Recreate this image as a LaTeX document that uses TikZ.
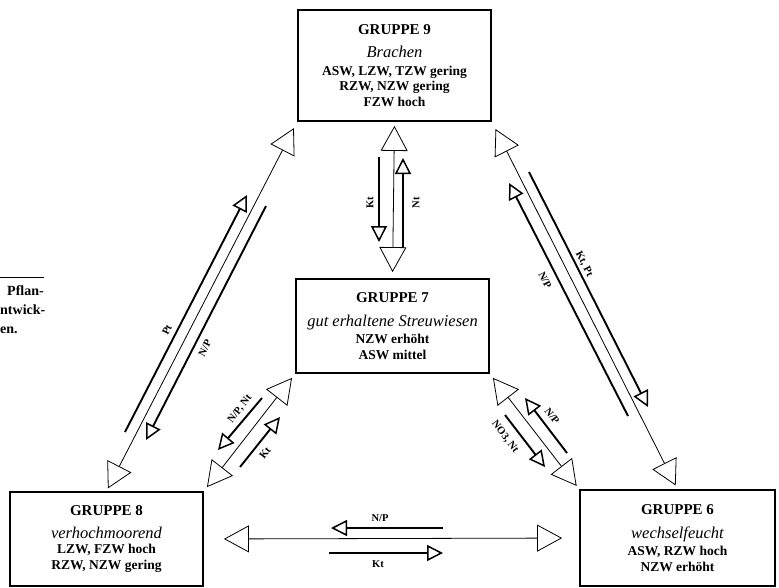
\documentclass[tikz,border=0pt]{standalone}
\usepackage{fontspec}
\setmainfont{Liberation Serif}
\usetikzlibrary{arrows.meta,positioning}

\tikzset{
  grp/.style={draw, line width=1.8pt, inner sep=0pt, align=center, font=\bfseries\fontsize{13.5}{15.5}\selectfont},
  haupt/.style={line width=0.8pt, {Triangle[open,length=25pt,width=27pt,line width=0.8pt]}-{Triangle[open,length=25pt,width=27pt,line width=0.8pt]}},
  fluss/.style={line width=1.9pt, -{Triangle[open,length=16pt,width=16pt,line width=1.5pt]}},
  lbl/.style={font=\bfseries\fontsize{10.5}{11}\selectfont, inner sep=0pt}
}
\newcommand{\kopf}[1]{{\bfseries\fontsize{15}{15}\selectfont #1}}
\newcommand{\art}[1]{{\mdseries\itshape\fontsize{16.5}{15}\selectfont #1}}

\begin{document}
\begin{tikzpicture}[x=1pt,y=-1pt]
\useasboundingbox (0,0) rectangle (779,587);

% die fuenf Gruppen
\node[grp, minimum width=193pt, minimum height=111pt] (g9) at (394.5,65.5)
  {\kopf{GRUPPE 9}\\[8pt] \art{Brachen}\\[2pt] ASW, LZW, TZW gering\\ RZW, NZW gering\\ FZW hoch};
\node[grp, minimum width=193pt, minimum height=94pt] (g7) at (392.5,326)
  {\kopf{GRUPPE 7}\\[8pt] \art{gut erhaltene Streuwiesen}\\[2pt] NZW erhöht\\ ASW mittel};
\node[grp, minimum width=193pt, minimum height=94pt] (g8) at (106.5,539)
  {\kopf{GRUPPE 8}\\[7pt] \art{verhochmoorend}\\ LZW, FZW hoch\\ RZW, NZW gering};
\node[grp, minimum width=195pt, minimum height=96pt] (g6) at (677.5,538)
  {\kopf{GRUPPE 6}\\[8pt] \art{wechselfeucht}\\[2pt] ASW, RZW hoch\\ NZW erhöht};

% Rest der Bildunterschrift links
\draw[line width=0.8pt] (0,277) -- (44,277);
\node[font=\bfseries\fontsize{14}{19}\selectfont, align=left, inner sep=0pt, anchor=north west] (rand) at (0,285)
  {\hspace*{7pt}Pflan-\\ntwick-\\en.};

% Uebergaenge
\draw[haupt, shorten <=4pt, shorten >=6pt] (g9.south) -- (g7.north);
\draw[haupt, shorten <=3pt, shorten >=7pt] (g8.north) -- (g9.south west);
\draw[haupt, shorten <=8pt, shorten >=4pt] (g9.south east) -- (g6.north);
\draw[haupt, shorten <=5pt, shorten >=5pt] (g8.north east) -- (g7.south west);
\draw[haupt, shorten <=5pt, shorten >=4pt] (g7.south east) -- (g6.north west);
\draw[haupt, shorten <=20pt, shorten >=17pt] (g8.east) -- (g6.west);

% Stoffe, senkrecht
\coordinate (a1) at (379,157); \coordinate (a2) at (379,242);
\coordinate (b1) at (403,248); \coordinate (b2) at (403,158);
\draw[fluss] (a1) -- (a2);
\draw[fluss] (b1) -- (b2);
\node[lbl, rotate=90] (la) at (370,203) {Kt};
\node[lbl, rotate=90] (lb) at (416,203) {Nt};

% links lang
\coordinate (c1) at (125,432); \coordinate (c2) at (247,195);
\coordinate (d1) at (266,206); \coordinate (d2) at (146,440);
\draw[fluss] (c1) -- (c2);
\draw[fluss] (d1) -- (d2);
\node[lbl, rotate=63] (lc) at (167,330) {Pt};
\node[lbl, rotate=63] (ld) at (205,348) {N/P};

% rechts lang
\coordinate (e1) at (529,172); \coordinate (e2) at (648,407);
\coordinate (f1) at (628,416); \coordinate (f2) at (509,183);
\draw[fluss] (e1) -- (e2);
\draw[fluss] (f1) -- (f2);
\node[lbl, rotate=-63] (le) at (584,264) {Kt, Pt};
\node[lbl, rotate=-63] (lf) at (545,280) {N/P};

% links kurz
\coordinate (g1) at (262,398); \coordinate (g2) at (218,450);
\coordinate (h1) at (240,467); \coordinate (h2) at (280,417);
\draw[fluss] (g1) -- (g2);
\draw[fluss] (h1) -- (h2);
\node[lbl, rotate=52] (lg) at (240,409) {N/P, Nt};
\node[lbl, rotate=52] (lh) at (265,453) {Kt};

% rechts kurz
\coordinate (i1) at (505,415); \coordinate (i2) at (545,467);
\coordinate (j1) at (567,453); \coordinate (j2) at (525,398);
\draw[fluss] (i1) -- (i2);
\draw[fluss] (j1) -- (j2);
\node[lbl, rotate=-53] (li) at (505,437) {NO3, Nt};
\node[lbl, rotate=-53] (lj) at (552,416) {N/P};

% unten waagerecht
\coordinate (k1) at (443,528); \coordinate (k2) at (331,528);
\coordinate (m1) at (329,553); \coordinate (m2) at (443,553);
\draw[fluss] (k1) -- (k2);
\draw[fluss] (m1) -- (m2);
\node[lbl] (lk) at (380,518) {N/P};
\node[lbl] (lm) at (378,564) {Kt};
\end{tikzpicture}
\end{document}
